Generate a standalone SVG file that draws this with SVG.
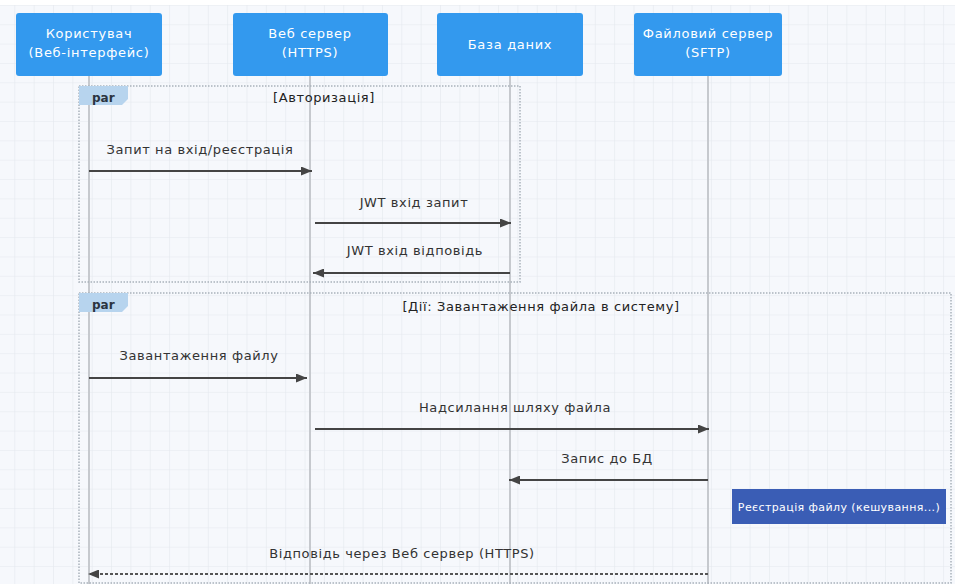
<svg xmlns="http://www.w3.org/2000/svg" width="955" height="584" viewBox="0 0 955 584">
  <defs>
    <pattern id="grid" x="14.3" y="4.9" width="19.35" height="19.35" patternUnits="userSpaceOnUse">
      <path d="M0,0 H19.35 M0,0 V19.35" fill="none" stroke="#e4e8ee" stroke-width="1.2"/>
    </pattern>
    <marker id="arr" markerUnits="userSpaceOnUse" markerWidth="11" markerHeight="9" refX="11" refY="4.5" orient="auto">
      <path d="M0,0 L11,4.5 L0,9 Z" fill="#444"/>
    </marker>
  </defs>
  <style>
    .node rect { fill: #3399ee; }
    .node text { fill: #ffffff; font-family: "DejaVu Sans", Verdana, sans-serif; font-size: 13px; letter-spacing: 0.7px; text-anchor: middle; }
    .life { stroke: #c6c9ce; stroke-width: 2; }
    .frame { fill: none; stroke: #a9b1ba; stroke-width: 1.5; stroke-dasharray: 1.5,1.5; }
    .tab { fill: #b7d4ee; }
    .par { font-family: "DejaVu Sans", Verdana, sans-serif; font-size: 12px; font-weight: bold; fill: #2b3440; }
    .cond { font-family: "DejaVu Sans", Verdana, sans-serif; font-size: 13px; letter-spacing: 0.6px; fill: #222; text-anchor: middle; }
    .msg { stroke: #444; stroke-width: 2; fill: none; marker-end: url(#arr); }
    .dash { stroke-dasharray: 3,2; stroke: #555; }
    .lbl { font-family: "DejaVu Sans", Verdana, sans-serif; font-size: 13px; letter-spacing: 0.6px; fill: #333; text-anchor: middle; }
    .note rect { fill: #3a5db5; }
    .note text { fill: #ffffff; font-family: "DejaVu Sans", Verdana, sans-serif; font-size: 11px; letter-spacing: 0.4px; text-anchor: middle; }
  </style>
  <rect x="0" y="0" width="955" height="584" fill="#ffffff"/>
  <rect x="0" y="5" width="955" height="579" fill="#f6f8fc"/>
  <rect x="0" y="5" width="955" height="579" fill="url(#grid)"/>

  <g id="lifelines">
    <line class="life" x1="89" y1="76" x2="89" y2="584"/>
    <line class="life" x1="310" y1="76" x2="310" y2="584"/>
    <line class="life" x1="510" y1="76" x2="510" y2="584"/>
    <line class="life" x1="708" y1="76" x2="708" y2="584"/>
  </g>

  <g id="frame-auth">
    <rect class="frame" x="79" y="86" width="441" height="196"/>
    <path class="tab" d="M79,86 H128 V99 L122,105 H79 Z"/>
    <text class="par" x="92" y="102">par</text>
    <text class="cond" x="324" y="102">[Авторизація]</text>
  </g>

  <g id="frame-actions">
    <rect class="frame" x="79" y="293" width="872" height="290"/>
    <path class="tab" d="M79,293 H128 V306 L122,312 H79 Z"/>
    <text class="par" x="92" y="309">par</text>
    <text class="cond" x="541" y="311">[Дії: Завантаження файла в систему]</text>
  </g>

  <g id="user" class="node">
    <rect x="16" y="13" width="146" height="63" rx="3"/>
    <text x="89" y="38">Користувач</text>
    <text x="89" y="57">(Веб-інтерфейс)</text>
  </g>
  <g id="webserver" class="node">
    <rect x="233" y="13" width="155" height="63" rx="3"/>
    <text x="310" y="38">Веб сервер</text>
    <text x="310" y="57">(HTTPS)</text>
  </g>
  <g id="database" class="node">
    <rect x="437" y="13" width="146" height="63" rx="3"/>
    <text x="510" y="49">База даних</text>
  </g>
  <g id="fileserver" class="node">
    <rect x="634" y="13" width="148" height="63" rx="3"/>
    <text x="708" y="38">Файловий сервер</text>
    <text x="708" y="57">(SFTP)</text>
  </g>

  <g id="connectors">
    <line class="msg" x1="89" y1="171" x2="312" y2="171"/>
    <text class="lbl" x="200" y="154">Запит на вхід/реєстрація</text>
    <line class="msg" x1="315" y1="223" x2="511" y2="223"/>
    <text class="lbl" x="414" y="207">JWT вхід запит</text>
    <line class="msg" x1="510" y1="273" x2="313" y2="273"/>
    <text class="lbl" x="415" y="255">JWT вхід відповідь</text>
    <line class="msg" x1="89" y1="378" x2="307" y2="378"/>
    <text class="lbl" x="199" y="360">Завантаження файлу</text>
    <line class="msg" x1="315" y1="429" x2="709" y2="429"/>
    <text class="lbl" x="515" y="412">Надсилання шляху файла</text>
    <line class="msg" x1="708" y1="480" x2="509" y2="480"/>
    <text class="lbl" x="607" y="463">Запис до БД</text>
    <line class="msg dash" x1="708" y1="574" x2="88" y2="574"/>
    <text class="lbl" x="402" y="558">Відповідь через Веб сервер (HTTPS)</text>
  </g>

  <g id="note" class="note">
    <rect x="732" y="489" width="214" height="35"/>
    <text x="839" y="511">Реєстрація файлу (кешування...)</text>
  </g>
</svg>
